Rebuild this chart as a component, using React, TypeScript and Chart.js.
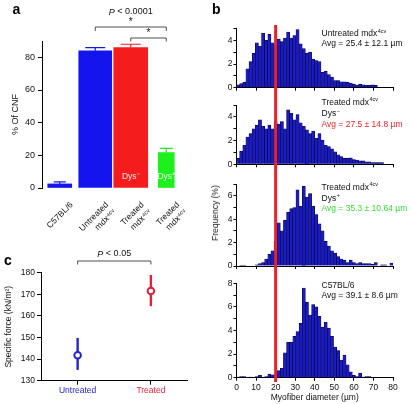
import React, { useEffect, useRef } from 'react';
import { Chart, registerables } from 'chart.js';
Chart.register(...registerables);

const FONT = '"Liberation Sans", Arial, Helvetica, sans-serif';
Chart.defaults.font.family = FONT;
Chart.defaults.font.size = 8.5;
Chart.defaults.color = '#111';

// ---------- Panel a: % of CNF ----------
const cnfGroups = [['C57BL/6'], ['Untreated', 'mdx⁴ᶜᵛ'], ['Treated', 'mdx⁴ᶜᵛ'], ['Treated', 'mdx⁴ᶜᵛ']];
const cnfValues = [2.5, 84, 86, 21.7];
const cnfErrors = [1.3, 2, 2, 2.6];
const cnfBarLabels = ['', '', 'Dys⁻', 'Dys⁺'];
const cnfColors = ['#1414ee', '#1414ee', '#f41c1c', '#1ef01e'];
const A_BAR_WIDTHS = [24, 33, 34, 16];
const A_CAP_HALF = [6, 10, 10, 6.5];

// ---------- Panel c: specific force ----------
const forceGroups = ['Untreated', 'Treated'];
const forceMeans = [141.8, 171.5];
const forceLow = [135, 164.5];
const forceHigh = [149.8, 179];
const forceColors = ['#2424c8', '#e0203c'];

// ---------- Panel b: myofiber diameter histograms ----------
const binCenters = [
  0.8, 2.4, 4.0, 5.6, 7.2, 8.8, 10.4, 12.0, 13.6, 15.2,
  16.8, 18.4, 20.0, 21.6, 23.2, 24.8, 26.4, 28.0, 29.6, 31.2,
  32.8, 34.4, 36.0, 37.6, 39.2, 40.8, 42.4, 44.0, 45.6, 47.2,
  48.8, 50.4, 52.0, 53.6, 55.2, 56.8, 58.4, 60.0, 61.6, 63.2,
  64.8, 66.4, 68.0, 69.6, 71.2, 72.8, 74.4, 76.0, 77.6, 79.2,
];
const untreatedFreq = [
  0.25, 0.35, 0.45, 1.6, 2.2, 2.9, 3.8, 3.5, 4.6, 4.0,
  4.5, 3.8, 3.6, 4.1, 3.9, 4.2, 4.7, 4.2, 4.4, 4.9,
  3.7, 3.3, 2.9, 3.0, 2.4, 2.3, 2.2, 1.3, 1.4, 1.1,
  0.9, 0.6, 0.6, 0.5, 0.5, 0.45, 0.4, 0.3, 0.2, 0.3,
  0.25, 0.2, 0.2, 0.25, 0.2, 0, 0, 0, 0, 0,
];
const dysNegFreq = [
  0.5, 1.1, 1.6, 2.3, 2.6, 3.0, 3.3, 3.75, 3.2, 3.0,
  3.3, 3.0, 3.6, 3.4, 3.6, 3.0, 4.6, 4.3, 3.75, 4.2,
  3.5, 3.2, 2.9, 2.6, 2.8, 2.2, 2.6, 2.05, 1.6, 1.5,
  1.3, 1.05, 0.8, 0.65, 0.5, 0.5, 0.55, 0.4, 0.35, 0.3,
  0.3, 0.2, 0.2, 0.15, 0.15, 0.15, 0.15, 0, 0, 0,
];
const dysPosFreq = [
  0, 0.05, 0.05, 0, 0, 0, 0.1, 0.2, 0.3, 0.6,
  1.0, 1.3, 2.1, 3.7, 3.0, 3.9, 4.6, 4.9, 5.0, 6.5,
  5.1, 6.8, 5.9, 6.2, 5.1, 4.4, 3.6, 3.0, 2.1, 1.7,
  1.3, 1.1, 0.8, 0.6, 0.5, 0.3, 0.5, 0.3, 0.2, 0.3,
  0.2, 0.2, 0.2, 0.15, 0.3, 0, 0.1, 0.1, 0, 0.25,
];
const c57Freq = [
  0.05, 0.1, 0.1, 0, 0.05, 0, 0.1, 0.2, 0, 0.1,
  0.3, 0.25, 0.3, 0.6, 0.8, 2.1, 3.0, 3.0, 3.5, 3.9,
  4.6, 7.6, 6.4, 5.3, 6.2, 6.0, 5.2, 4.3, 4.7, 4.2,
  3.5, 2.6, 2.3, 1.5, 1.9, 1.1, 0.5, 0.2, 0.1, 0.4,
  0.05, 0.1, 0.1, 0, 0, 0, 0, 0, 0, 0,
];
const diameterCutoff = 20;
const HIST_FILL = '#1b1bc2';
const HIST_EDGE = '#05053a';
const CUTOFF_RED = '#ea2229';

const noLegend = { legend: { display: false }, tooltip: { enabled: false } };

function bracket(ctx: CanvasRenderingContext2D, x1: number, x2: number, y: number, yEnd: number) {
  ctx.beginPath();
  ctx.moveTo(x1, yEnd);
  ctx.lineTo(x1, y);
  ctx.lineTo(x2, y);
  ctx.lineTo(x2, yEnd);
  ctx.stroke();
}

function pText(ctx: CanvasRenderingContext2D, cx: number, cy: number, rest: string) {
  ctx.font = `italic 9px ${FONT}`;
  const wP = ctx.measureText('P').width;
  ctx.font = `9px ${FONT}`;
  const wR = ctx.measureText(rest).width;
  const x0 = cx - (wP + wR) / 2;
  ctx.textAlign = 'left';
  ctx.textBaseline = 'middle';
  ctx.fillStyle = '#111';
  ctx.font = `italic 9px ${FONT}`;
  ctx.fillText('P', x0, cy);
  ctx.font = `9px ${FONT}`;
  ctx.fillText(rest, x0 + wP, cy);
}

const cnfPlugin = {
  id: 'cnfExtras',
  afterDatasetsDraw(chart: any) {
    const { ctx, scales, chartArea } = chart;
    const x = scales.x, y = scales.y;
    ctx.save();
    cnfValues.forEach((v, i) => {
      const el = chart.getDatasetMeta(i).data[i];
      if (!el) return;
      const cx = el.x;
      const y0 = y.getPixelForValue(v);
      const y1 = y.getPixelForValue(v + cnfErrors[i]);
      ctx.strokeStyle = cnfColors[i];
      ctx.lineWidth = 1.2;
      ctx.beginPath();
      ctx.moveTo(cx, y0);
      ctx.lineTo(cx, y1);
      ctx.moveTo(cx - A_CAP_HALF[i], y1);
      ctx.lineTo(cx + A_CAP_HALF[i], y1);
      ctx.stroke();
      if (cnfBarLabels[i]) {
        ctx.fillStyle = 'rgba(255,255,255,0.9)';
        ctx.font = `8.5px ${FONT}`;
        ctx.textAlign = 'center';
        ctx.textBaseline = 'middle';
        ctx.fillText(cnfBarLabels[i], cx, chartArea.bottom - 11);
      }
    });
    const xa = x.getPixelForValue(1), xb = x.getPixelForValue(2), xc = x.getPixelForValue(3);
    ctx.strokeStyle = '#222';
    ctx.lineWidth = 0.8;
    bracket(ctx, xa, xc, 27, 31);
    bracket(ctx, xb, xc, 38, 41.5);
    ctx.fillStyle = '#111';
    ctx.font = `10px ${FONT}`;
    ctx.textAlign = 'center';
    ctx.textBaseline = 'middle';
    ctx.fillText('*', (xa + xc) / 2, 22);
    ctx.fillText('*', (xb + xc) / 2, 33);
    pText(ctx, (xa + xc) / 2, 12, ' < 0.0001');
    ctx.restore();
  },
};

function makeA(): any {
  return {
    type: 'bar',
    data: {
      labels: cnfGroups,
      datasets: cnfValues.map((v, i) => ({
        data: cnfValues.map((w, j) => (j === i ? w : null)),
        backgroundColor: cnfColors[i],
        borderWidth: 0,
        barThickness: A_BAR_WIDTHS[i],
        grouped: false,
      })),
    },
    options: {
      responsive: false,
      animation: false,
      layout: { padding: { left: 0, top: 41, right: 16, bottom: 0 } },
      plugins: noLegend,
      scales: {
        x: {
          grid: { display: false },
          border: { display: false },
          ticks: { autoSkip: false, maxRotation: 45, minRotation: 45, labelOffset: 12, padding: 4, font: { size: 8.5 } },
          afterFit: (s: any) => { s.height = 44; },
        },
        y: {
          min: 0,
          max: 90,
          ticks: { stepSize: 20, includeBounds: false, padding: 3, font: { size: 9 } },
          grid: { drawOnChartArea: false, tickLength: 4, color: '#000' },
          border: { color: '#000' },
          title: { display: true, text: '% Of CNF', padding: { top: 10, bottom: 0 }, font: { size: 9 } },
          afterFit: (s: any) => { s.width = 42; },
        },
      },
    },
    plugins: [cnfPlugin],
  };
}

const forcePlugin = {
  id: 'forceExtras',
  beforeDatasetsDraw(chart: any) {
    const { ctx, scales } = chart;
    const x = scales.x, y = scales.y;
    ctx.save();
    forceMeans.forEach((m, i) => {
      const cx = x.getPixelForValue(i);
      ctx.strokeStyle = forceColors[i];
      ctx.lineWidth = 2.4;
      ctx.beginPath();
      ctx.moveTo(cx, y.getPixelForValue(forceLow[i]));
      ctx.lineTo(cx, y.getPixelForValue(forceHigh[i]));
      ctx.stroke();
    });
    const x1 = x.getPixelForValue(0), x2 = x.getPixelForValue(1);
    ctx.strokeStyle = '#222';
    ctx.lineWidth = 0.8;
    bracket(ctx, x1, x2, 21, 24.5);
    pText(ctx, (x1 + x2) / 2, 14, ' < 0.05');
    ctx.restore();
  },
};

function makeC(): any {
  return {
    type: 'line',
    data: {
      labels: forceGroups,
      datasets: [{
        data: forceMeans,
        showLine: false,
        pointRadius: 3.3,
        pointBorderWidth: 2,
        pointBackgroundColor: '#fff',
        pointBorderColor: forceColors,
      }],
    },
    options: {
      responsive: false,
      animation: false,
      layout: { padding: { left: 0, top: 32.7, right: 12.5, bottom: 0 } },
      plugins: noLegend,
      scales: {
        x: {
          offset: true,
          grid: { drawOnChartArea: false, tickLength: 4, color: '#000', offset: false },
          border: { color: '#000' },
          ticks: { padding: 1, font: { size: 8.5 }, color: (c: any) => forceColors[c.index] },
          afterFit: (s: any) => { s.height = 23.3; },
        },
        y: {
          min: 130,
          max: 180,
          ticks: { stepSize: 10, padding: 2, font: { size: 8.5 } },
          grid: { drawOnChartArea: false, tickLength: 4, color: '#000' },
          border: { color: '#000' },
          title: { display: true, text: 'Specific force (kN/m²)', padding: { top: 3.8, bottom: 0 }, font: { size: 8.5 } },
          afterFit: (s: any) => { s.width = 41; },
        },
      },
    },
    plugins: [forcePlugin],
  };
}

function cutoffPlugin(top: number, bottom: number) {
  return {
    id: 'cutoff',
    afterDatasetsDraw(chart: any) {
      const x = chart.scales.x.getPixelForValue(diameterCutoff);
      const ctx = chart.ctx;
      ctx.save();
      ctx.fillStyle = CUTOFF_RED;
      ctx.fillRect(x - 1.5, top, 3, bottom - top);
      ctx.restore();
    },
  };
}

function makeHist(freq: number[], yMax: number, padTop: number, xHeight: number, last: boolean, lineTop: number, lineBottom: number): any {
  return {
    type: 'bar',
    data: {
      datasets: [{
        data: binCenters.map((x, i) => ({ x, y: freq[i] })),
        backgroundColor: HIST_FILL,
        borderColor: HIST_EDGE,
        borderWidth: 0.6,
        categoryPercentage: 1,
        barPercentage: 1,
      }],
    },
    options: {
      responsive: false,
      animation: false,
      layout: { padding: { left: 0, top: padTop, right: 19, bottom: 0 } },
      plugins: noLegend,
      scales: {
        x: {
          type: 'linear',
          min: 0,
          max: 80,
          offset: false,
          ticks: { stepSize: 10, display: last, padding: 2, font: { size: 8.5 } },
          grid: { drawOnChartArea: false, tickLength: 3, color: '#000', offset: false },
          border: { color: '#000' },
          title: { display: last, text: 'Myofiber diameter (µm)', padding: { top: 0, bottom: 1 }, font: { size: 8.5 } },
          afterFit: (s: any) => { s.height = xHeight; },
        },
        y: {
          min: 0,
          max: yMax,
          ticks: { stepSize: 1, padding: 1, autoSkip: false, font: { size: 8.5 }, callback: (v: any) => (v % 2 === 0 ? String(v) : '') },
          grid: { drawOnChartArea: false, tickLength: 3, color: '#000' },
          border: { color: '#000' },
          afterFit: (s: any) => { s.width = 36.5; },
        },
      },
    },
    plugins: [cutoffPlugin(lineTop, lineBottom)],
  };
}

function ChartBox({ left, top, width, height, make }: { left: number; top: number; width: number; height: number; make: () => any }) {
  const ref = useRef<HTMLCanvasElement>(null);
  useEffect(() => {
    const chart = new Chart(ref.current as HTMLCanvasElement, make());
    return () => chart.destroy();
  }, []);
  return <canvas ref={ref} width={width} height={height} style={{ position: 'absolute', left, top, width, height }} />;
}

const Sup = ({ children }: { children: React.ReactNode }) => (
  <span style={{ fontSize: 5.5, position: 'relative', top: -3.5, marginLeft: 0.5 }}>{children}</span>
);

function Note({ x, cy, color, children }: { x: number; cy: number; color?: string; children: React.ReactNode }) {
  return (
    <div style={{ position: 'absolute', left: x, top: cy - 6, lineHeight: '12px', fontSize: 8.5, whiteSpace: 'nowrap', color: color || '#111' }}>
      {children}
    </div>
  );
}

const panelLabel = (t: string, left: number, top: number) => (
  <div style={{ position: 'absolute', left, top, fontSize: 14, lineHeight: '14px', fontWeight: 'bold', color: '#000' }}>{t}</div>
);

export default function App() {
  const NX = 321.5;
  return (
    <div style={{ position: 'fixed', left: 0, top: 0, width: 412, height: 404, background: '#fff', fontFamily: FONT, overflow: 'hidden' }}>
      <ChartBox left={0} top={0} width={200} height={232} make={makeA} />
      <ChartBox left={0} top={240} width={200} height={164} make={makeC} />
      <ChartBox left={200} top={20} width={212} height={78} make={() => makeHist(untreatedFreq, 5, 8.5, 10.3, false, 5, 78)} />
      <ChartBox left={200} top={98} width={212} height={80} make={() => makeHist(dysNegFreq, 5, 7, 13.7, false, 0, 80)} />
      <ChartBox left={200} top={178} width={212} height={95} make={() => makeHist(dysPosFreq, 7, 6, 7, false, 0, 95)} />
      <ChartBox left={200} top={273} width={212} height={131} make={() => makeHist(c57Freq, 8, 10.3, 26.3, true, 0, 109)} />

      {panelLabel('a', 12.5, 1.7)}
      {panelLabel('b', 212, 2.3)}
      {panelLabel('c', 4, 253.4)}

      <div style={{ position: 'absolute', left: 215, top: 213, fontSize: 8.5, whiteSpace: 'nowrap', color: '#111', transform: 'translate(-50%, -50%) rotate(-90deg)' }}>
        Frequency (%)
      </div>

      <Note x={NX} cy={33}>Untreated mdx<Sup>4cv</Sup></Note>
      <Note x={NX} cy={43}>Avg = 25.4 ± 12.1 µm</Note>

      <Note x={NX} cy={101.7}>Treated mdx<Sup>4cv</Sup></Note>
      <Note x={NX} cy={113}>Dys<Sup>−</Sup></Note>
      <Note x={NX} cy={124} color="#e8262b">Avg = 27.5 ± 14.8 µm</Note>

      <Note x={NX} cy={186.7}>Treated mdx<Sup>4cv</Sup></Note>
      <Note x={NX} cy={197.7}>Dys<Sup>+</Sup></Note>
      <Note x={NX} cy={208.3} color="#3ad93a">Avg = 35.3 ± 10.64 µm</Note>

      <Note x={NX} cy={285}>C57BL/6</Note>
      <Note x={NX} cy={295}>Avg = 39.1 ± 8.6 µm</Note>
    </div>
  );
}
